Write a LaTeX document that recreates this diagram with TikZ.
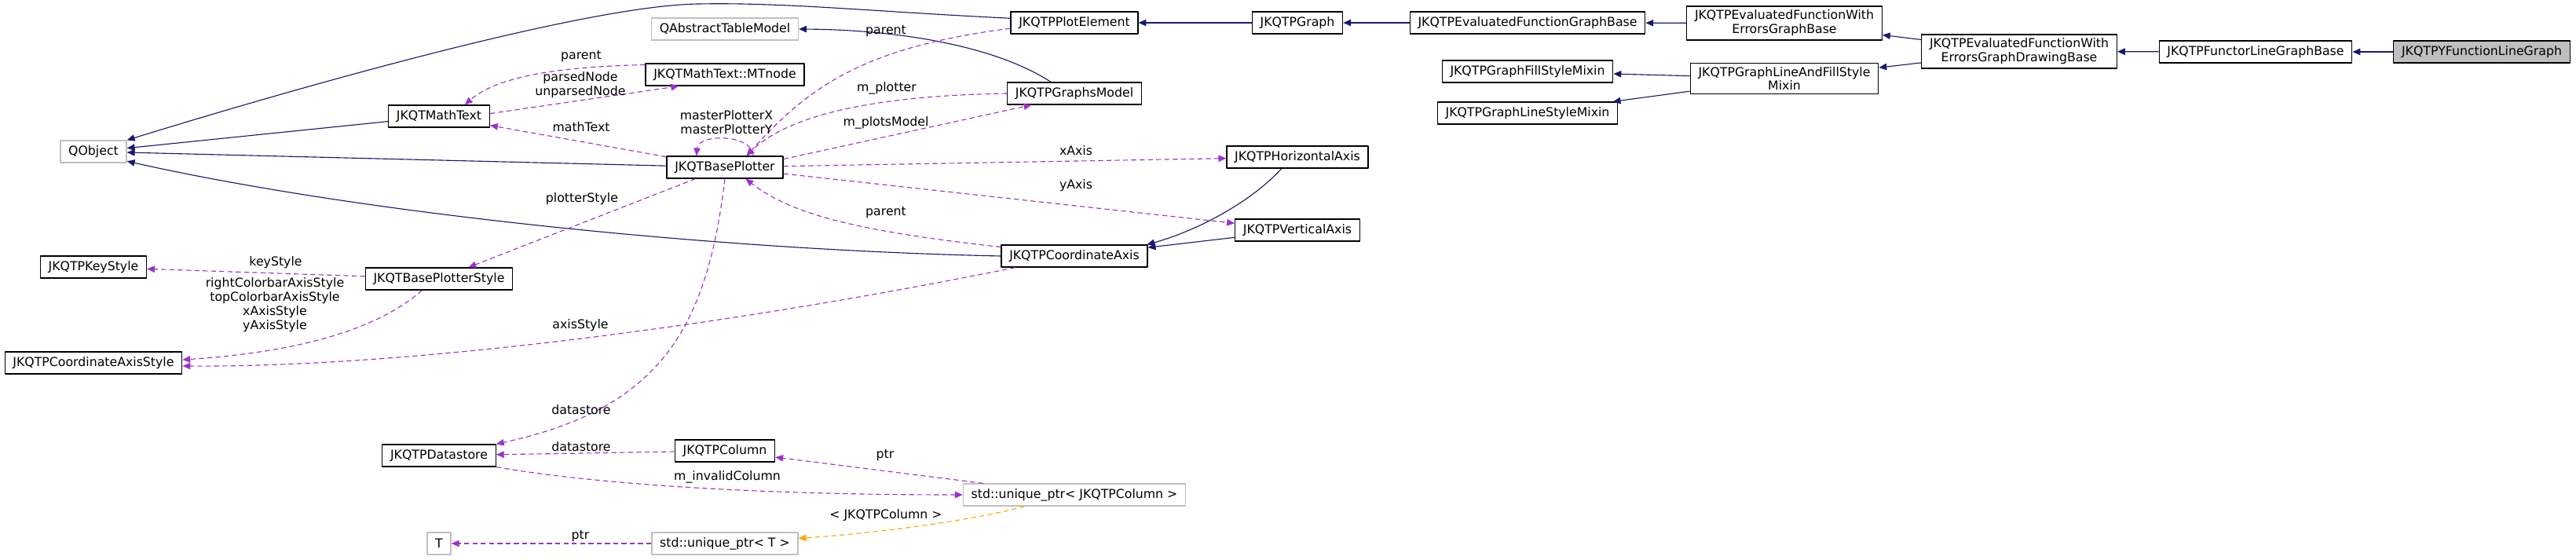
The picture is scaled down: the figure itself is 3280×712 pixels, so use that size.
\documentclass[tikz,border=0pt]{standalone}
\usepackage{fontspec}
\setmainfont{DejaVu Sans}
\usepackage{xcolor}
\usetikzlibrary{arrows.meta}
\definecolor{dxblue}{HTML}{191970}
\definecolor{dxpurple}{HTML}{9A32CD}
\definecolor{dxorange}{HTML}{FFA500}
\definecolor{dxgray}{HTML}{BFBFBF}
\newcommand\dxfont{\fontsize{11.2}{12.7}\selectfont}
\begin{document}
\begin{tikzpicture}[x=0.025cm,y=-0.025cm,line join=round,
    cls/.style={draw=black,fill=white,line width=0.9pt,minimum height=19.9pt,inner xsep=7.3pt,inner ysep=3.5pt,align=center,font=\dxfont},
    ext/.style={cls,draw=dxgray},
    lbl/.style={inner sep=0pt,align=center,font=\dxfont},
    inh/.style={draw=dxblue,line width=0.8pt,-{Triangle[length=7pt,width=6pt]}},
    use/.style={draw=dxpurple,line width=0.8pt,dash pattern=on 4.5pt off 3pt,-{Triangle[length=7pt,width=6pt]}},
    tpl/.style={use,draw=dxorange}]
        \useasboundingbox (0,0) rectangle (3280,712);
        \node[ext] (qobject) at (119,193) {QObject};
        \node[cls] (mathtext) at (559,148) {JKQTMathText};
        \node[cls] (keystyle) at (119,340) {JKQTPKeyStyle};
        \node[cls] (plotterstyle) at (559,355) {JKQTBasePlotterStyle};
        \node[cls] (axisstyle) at (119,462) {JKQTPCoordinateAxisStyle};
        \node[cls] (datastore) at (559,580) {JKQTPDatastore};
        \node[ext] (tparam) at (559,692) {T};
        \node[ext] (tablemodel) at (923,37) {QAbstractTableModel};
        \node[cls] (mtnode) at (923,95) {JKQTMathText::MTnode};
        \node[cls] (baseplotter) at (923,213) {JKQTBasePlotter};
        \node[cls] (column) at (923,574) {JKQTPColumn};
        \node[ext] (uptrt) at (923,692) {std::unique\_ptr< T >};
        \node[cls] (plotelement) at (1368,29) {JKQTPPlotElement};
        \node[cls] (graphsmodel) at (1368,119) {JKQTPGraphsModel};
        \node[cls] (coordaxis) at (1368,326) {JKQTPCoordinateAxis};
        \node[ext] (uptrcol) at (1368,630) {std::unique\_ptr< JKQTPColumn >};
        \node[cls] (horizaxis) at (1652,200) {JKQTPHorizontalAxis};
        \node[cls] (vertaxis) at (1652,293) {JKQTPVerticalAxis};
        \node[cls] (graph) at (1652,29) {JKQTPGraph};
        \node[cls] (evalbase) at (1945,29) {JKQTPEvaluatedFunctionGraphBase};
        \node[cls] (fillmixin) at (1945,91) {JKQTPGraphFillStyleMixin};
        \node[cls] (linemixin) at (1945,144) {JKQTPGraphLineStyleMixin};
        \node[cls] (errbase) at (2272,29.5) {JKQTPEvaluatedFunctionWith\\ErrorsGraphBase};
        \node[cls] (linefillmixin) at (2272,100) {JKQTPGraphLineAndFillStyle\\Mixin};
        \node[cls] (drawbase) at (2571,65.5) {JKQTPEvaluatedFunctionWith\\ErrorsGraphDrawingBase};
        \node[cls] (functorbase) at (2872,66) {JKQTPFunctorLineGraphBase};
        \node[cls,fill=dxgray] (yfunc) at (3160,66) {JKQTPYFunctionLineGraph};
        \draw[inh] (plotelement.176) .. controls (1100,14) and (1000,3) .. (889,5) .. controls (750,7) and (400,105) .. (qobject.north east);
        \draw[inh] (mathtext) -- (qobject);
        \draw[inh] (baseplotter) -- (qobject);
        \draw[inh] (coordaxis.west) .. controls (900,318) and (450,270) .. (qobject.-16);
        \draw[inh] (graphsmodel.154) .. controls (1270,60) and (1150,38) .. (tablemodel.east);
        \draw[inh] (graph) -- (plotelement);
        \draw[inh] (evalbase) -- (graph);
        \draw[inh] (errbase) -- (evalbase);
        \draw[inh] (drawbase) -- (errbase);
        \draw[inh] (drawbase) -- (linefillmixin);
        \draw[inh] (linefillmixin) -- (fillmixin);
        \draw[inh] (linefillmixin) -- (linemixin);
        \draw[inh] (functorbase) -- (drawbase);
        \draw[inh] (yfunc) -- (functorbase);
        \draw[inh] (horizaxis.-144) .. controls (1590,260) and (1520,295) .. (coordaxis.9);
        \draw[inh] (vertaxis) -- (coordaxis);
        \draw[use] (mtnode.173) .. controls (700,85) and (630,100) .. (mathtext.24);
        \draw[use] (mathtext.3) -- (mtnode.-166);
        \draw[use] (baseplotter) -- (mathtext);
        \draw[use] (baseplotter.22) .. controls (958,170) and (889,170) .. (baseplotter.158);
        \draw[use] (plotelement.-175) .. controls (1100,60) and (1030,110) .. (baseplotter.28);
        \draw[use] (graphsmodel.west) .. controls (1100,122) and (1000,150) .. (baseplotter.28);
        \draw[use] (baseplotter.8) -- (graphsmodel.-165);
        \draw[use] (baseplotter) -- (horizaxis);
        \draw[use] (baseplotter) -- (vertaxis);
        \draw[use] (coordaxis.173) .. controls (1100,295) and (1010,275) .. (baseplotter.-29);
        \draw[use] (baseplotter) -- (plotterstyle);
        \draw[use] (plotterstyle) -- (keystyle);
        \draw[use] (plotterstyle.-146) .. controls (480,420) and (380,448) .. (axisstyle.2);
        \draw[use] (coordaxis.-169) .. controls (900,420) and (500,468) .. (axisstyle.-2.5);
        \draw[use] (baseplotter.south) .. controls (900,420) and (840,520) .. (datastore.north east);
        \draw[use] (column) -- (datastore);
        \draw[use] (datastore.south east) .. controls (750,615) and (950,630) .. (uptrcol.west);
        \draw[use] (uptrcol) -- (column);
        \draw[use] (uptrt) -- (tparam);
        \draw[tpl] (uptrcol.-167) .. controls (1230,665) and (1100,680) .. (uptrt.4);
        \node[lbl] (lblmtparent) at (740,72) {parent};
        \node[lbl] (lblnode) at (739,108) {parsedNode\\unparsedNode};
        \node[lbl] (lblmath) at (740,162) {mathText};
        \node[lbl] (lblmaster) at (925,156) {masterPlotterX\\masterPlotterY};
        \node[lbl] (lblelparent) at (1128,40) {parent};
        \node[lbl] (lblplotter) at (1129,112) {m\_plotter};
        \node[lbl] (lblmodel) at (1128,156) {m\_plotsModel};
        \node[lbl] (lblx) at (1370,192) {xAxis};
        \node[lbl] (lbly) at (1370,236) {yAxis};
        \node[lbl] (lblaxparent) at (1128,271) {parent};
        \node[lbl] (lblstyle) at (741,253) {plotterStyle};
        \node[lbl] (lblkey) at (351,334) {keyStyle};
        \node[lbl] (lblaxes) at (350,388) {rightColorbarAxisStyle\\topColorbarAxisStyle\\xAxisStyle\\yAxisStyle};
        \node[lbl] (lblaxis) at (739,414) {axisStyle};
        \node[lbl] (lbldata) at (740,522) {datastore};
        \node[lbl] (lblcoldata) at (740,569) {datastore};
        \node[lbl] (lblptrt) at (739,683) {ptr};
        \node[lbl] (lblinvalid) at (926,607) {m\_invalidColumn};
        \node[lbl] (lblptrcol) at (1127,580) {ptr};
        \node[lbl] (lbltpl) at (1128,656) {< JKQTPColumn >};
\end{tikzpicture}
\end{document}
